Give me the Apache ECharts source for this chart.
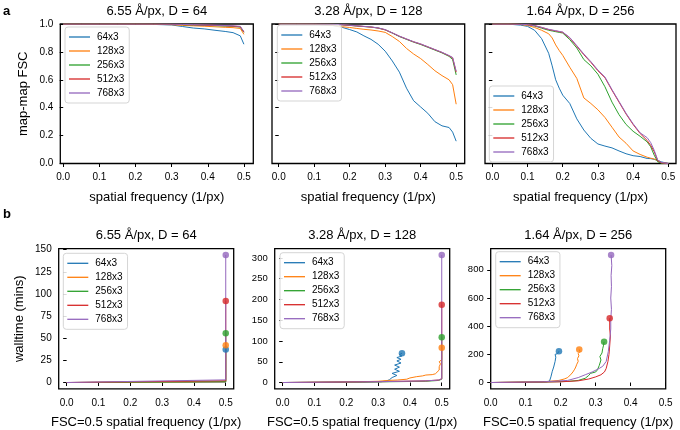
<!DOCTYPE html>
<html>
<head>
<meta charset="utf-8">
<script src="https://cdn.jsdelivr.net/npm/echarts@6/dist/echarts.min.js"></script>
<style>html,body{margin:0;padding:0;background:#fff}#c{width:680px;height:430px}</style>
</head>
<body>
<div id="c"></div>
<script>
// ---------- data ----------
const runs = ['64x3', '128x3', '256x3', '512x3', '768x3'];
const panelTitlesA = ['6.55 Å/px, D = 64', '3.28 Å/px, D = 128', '1.64 Å/px, D = 256'];
const panelTitlesB = ['6.55 Å/px, D = 64', '3.28 Å/px, D = 128', '1.64 Å/px, D = 256'];
const freqTicks = [0, 0.1, 0.2, 0.3, 0.4, 0.5];
const fscTicks = [0, 0.2, 0.4, 0.6, 0.8, 1.0];
const b1TimeTicks = [0, 25, 50, 75, 100, 125, 150];
const b2TimeTicks = [0, 50, 100, 150, 200, 250, 300];
const b3TimeTicks = [0, 200, 400, 600, 800];

// (a) map-map FSC curves
const a1_freq = [0, 0.05, 0.1, 0.15, 0.2, 0.25, 0.3, 0.33, 0.36, 0.39, 0.42, 0.45, 0.47, 0.49, 0.5];
const a1_64  = [1, 1, 1, 1, 0.999, 0.997, 0.993, 0.982, 0.971, 0.965, 0.955, 0.946, 0.938, 0.915, 0.855];
const a1_128 = [1, 1, 1, 1, 1, 0.998, 0.995, 0.99, 0.987, 0.984, 0.98, 0.976, 0.974, 0.968, 0.926];
const a1_256 = [1, 1, 1, 1, 1, 1, 0.998, 0.995, 0.993, 0.99, 0.988, 0.985, 0.983, 0.978, 0.94];
const a1_512 = [1, 1, 1, 1, 1, 1, 0.998, 0.996, 0.994, 0.992, 0.99, 0.987, 0.985, 0.98, 0.942];
const a1_768 = [1, 1, 1, 1, 1, 1, 0.999, 0.997, 0.995, 0.993, 0.991, 0.989, 0.987, 0.983, 0.946];

const a2_freq = [0, 0.05, 0.1, 0.15, 0.18, 0.2, 0.22, 0.24, 0.26, 0.28, 0.3, 0.32, 0.34, 0.36, 0.38, 0.4, 0.42, 0.44, 0.46, 0.48, 0.49, 0.5];
const a2_64  = [1, 1, 0.998, 0.99, 0.975, 0.96, 0.943, 0.915, 0.89, 0.855, 0.805, 0.735, 0.655, 0.54, 0.45, 0.405, 0.36, 0.3, 0.27, 0.258, 0.225, 0.16];
const a2_128 = [1, 1, 0.998, 0.99, 0.98, 0.975, 0.968, 0.962, 0.957, 0.95, 0.94, 0.91, 0.875, 0.825, 0.785, 0.752, 0.71, 0.665, 0.63, 0.6, 0.565, 0.425];
const a2_256 = [1, 1, 1, 0.998, 0.994, 0.99, 0.986, 0.982, 0.978, 0.971, 0.958, 0.935, 0.91, 0.89, 0.87, 0.853, 0.833, 0.813, 0.793, 0.768, 0.745, 0.635];
const a2_512 = [1, 1, 1, 0.998, 0.994, 0.99, 0.986, 0.982, 0.978, 0.971, 0.958, 0.936, 0.912, 0.892, 0.872, 0.856, 0.836, 0.816, 0.796, 0.772, 0.757, 0.655];
const a2_768 = [1, 1, 1, 0.998, 0.995, 0.991, 0.987, 0.983, 0.979, 0.972, 0.96, 0.937, 0.913, 0.893, 0.873, 0.857, 0.837, 0.817, 0.797, 0.774, 0.76, 0.662];

const a3_freq = [0, 0.05, 0.08, 0.1, 0.12, 0.14, 0.16, 0.17, 0.18, 0.19, 0.2, 0.22, 0.24, 0.26, 0.28, 0.3, 0.32, 0.34, 0.36, 0.38, 0.4, 0.42, 0.44, 0.45, 0.46, 0.47, 0.48, 0.5];
const a3_64  = [1, 0.998, 0.992, 0.983, 0.955, 0.895, 0.79, 0.7, 0.6, 0.54, 0.49, 0.43, 0.32, 0.24, 0.18, 0.14, 0.125, 0.112, 0.09, 0.07, 0.056, 0.05, 0.036, 0.035, 0.03, 0.022, 0.012, 0];
const a3_128 = [1, 1, 0.996, 0.99, 0.975, 0.955, 0.93, 0.9, 0.85, 0.81, 0.775, 0.69, 0.61, 0.47, 0.43, 0.385, 0.33, 0.26, 0.19, 0.145, 0.09, 0.065, 0.045, 0.038, 0.032, 0.02, 0.005, 0];
const a3_256 = [1, 1, 0.998, 0.995, 0.985, 0.97, 0.955, 0.95, 0.945, 0.94, 0.935, 0.888, 0.828, 0.745, 0.7, 0.64, 0.55, 0.44, 0.35, 0.28, 0.231, 0.195, 0.155, 0.12, 0.06, 0.012, 0.003, 0];
const a3_512 = [1, 1, 0.998, 0.995, 0.988, 0.975, 0.96, 0.955, 0.95, 0.945, 0.94, 0.9, 0.84, 0.78, 0.725, 0.665, 0.615, 0.525, 0.44, 0.355, 0.28, 0.215, 0.165, 0.13, 0.085, 0.02, 0.005, 0];
const a3_768 = [1, 1, 0.998, 0.995, 0.988, 0.976, 0.962, 0.957, 0.952, 0.947, 0.942, 0.903, 0.845, 0.785, 0.73, 0.67, 0.62, 0.53, 0.445, 0.36, 0.285, 0.22, 0.185, 0.15, 0.095, 0.025, 0.008, 0];

// (b) walltime vs FSC=0.5 resolution
const b1_64_res  = [0, 0.5, 0.5];    const b1_64_min  = [0, 0.5, 37.3];
const b1_128_res = [0, 0.5, 0.5];    const b1_128_min = [0, 0.8, 42];
const b1_256_res = [0, 0.5, 0.5];    const b1_256_min = [0, 1, 55.5];
const b1_512_res = [0, 0.5, 0.5];    const b1_512_min = [0, 2, 92];
const b1_768_res = [0, 0.5, 0.5];    const b1_768_min = [0, 3, 144];

const b2_64_res  = [0, 0.25, 0.31, 0.328, 0.336, 0.344, 0.359, 0.344, 0.367, 0.352, 0.367, 0.352, 0.372, 0.359, 0.372, 0.359, 0.375, 0.367, 0.375];
const b2_64_min  = [0, 1, 2, 4, 7, 12, 17, 22, 27, 32, 37, 42, 47, 52, 56, 60, 64, 67, 70.5];
const b2_128_res = [0, 0.2, 0.3, 0.33, 0.36, 0.39, 0.4, 0.42, 0.44, 0.45, 0.47, 0.48, 0.484, 0.492, 0.492, 0.496, 0.492, 0.5, 0.5];
const b2_128_min = [0, 1, 3, 5, 6, 8, 11, 14, 16, 18, 19, 21, 23, 30, 38, 45, 50, 55, 84];
const b2_256_res = [0, 0.3, 0.45, 0.49, 0.5, 0.5];
const b2_256_min = [0, 1.5, 3, 5, 8, 109];
const b2_512_res = [0, 0.3, 0.45, 0.49, 0.5, 0.5];
const b2_512_min = [0, 2, 4, 6, 9, 187];
const b2_768_res = [0, 0.3, 0.45, 0.49, 0.5, 0.5];
const b2_768_min = [0, 2, 4, 6, 9, 307];

const b3_64_res  = [0, 0.1, 0.16, 0.168, 0.172, 0.176, 0.18, 0.184, 0.186, 0.184, 0.191, 0.188, 0.195];
const b3_64_min  = [0, 2, 5, 10, 40, 80, 110, 150, 180, 200, 205, 215, 222];
const b3_128_res = [0, 0.15, 0.195, 0.2, 0.21, 0.22, 0.225, 0.23, 0.235, 0.24, 0.243, 0.246, 0.25, 0.248, 0.252, 0.25, 0.255, 0.253];
const b3_128_min = [0, 5, 15, 20, 25, 35, 45, 60, 75, 95, 110, 130, 150, 170, 190, 205, 220, 235];
const b3_256_res = [0, 0.15, 0.22, 0.25, 0.27, 0.28, 0.285, 0.3, 0.305, 0.31, 0.315, 0.312, 0.318, 0.32, 0.322, 0.324];
const b3_256_min = [0, 3, 8, 15, 30, 50, 65, 75, 90, 120, 160, 185, 210, 240, 260, 289];
const b3_512_res = [0, 0.2, 0.25, 0.28, 0.3, 0.315, 0.325, 0.33, 0.335, 0.338, 0.34, 0.342, 0.34, 0.34];
const b3_512_min = [0, 5, 12, 25, 40, 55, 75, 100, 150, 200, 260, 330, 380, 456];
const b3_768_res = [0, 0.15, 0.22, 0.25, 0.27, 0.29, 0.31, 0.32, 0.33, 0.336, 0.34, 0.343, 0.343, 0.345, 0.343, 0.345, 0.344, 0.346, 0.344];
const b3_768_min = [0, 5, 15, 35, 55, 75, 100, 115, 150, 220, 300, 380, 450, 520, 600, 680, 760, 830, 905];

// ---------- chart ----------
const FONT = '"Liberation Sans", Arial, Helvetica, sans-serif';
const COLORS = ['#1f77b4', '#ff7f0e', '#2ca02c', '#d62728', '#9467bd'];

const grids = [
  {left: 60.3, top: 24, width: 193, height: 139.5},
  {left: 272, top: 24, width: 192.7, height: 139.5},
  {left: 485, top: 24, width: 191, height: 139.5},
  {left: 58.7, top: 248.6, width: 175, height: 140.3},
  {left: 274.7, top: 248.6, width: 175, height: 140.3},
  {left: 490.7, top: 248.6, width: 175, height: 140.3}
];
const xRanges = [[-0.008, 0.526], [-0.019, 0.524], [-0.021, 0.522], [-0.025, 0.525], [-0.025, 0.525], [0, 0.5]];
const yRanges = [[0, 1], [0, 1], [0, 1], [-7.2, 151.2], [-15.35, 322.4], [-45.3, 951]];
const yTickSets = [fscTicks, fscTicks, fscTicks, b1TimeTicks, b2TimeTicks, b3TimeTicks];

const tickStyle = {show: true, length: 3.5, lineStyle: {color: '#000', width: 1}};

const xAxes = grids.map((g, i) => ({
  gridIndex: i, type: 'value', min: xRanges[i][0], max: xRanges[i][1],
  axisLine: {show: false}, splitLine: {show: false},
  axisTick: Object.assign({customValues: freqTicks}, tickStyle),
  axisLabel: {customValues: freqTicks, formatter: v => v.toFixed(1), fontSize: 10, color: '#000', fontFamily: FONT, margin: 9},
  name: i < 3 ? 'spatial frequency (1/px)' : 'FSC=0.5 spatial frequency (1/px)',
  nameLocation: 'middle', nameGap: 27,
  nameTextStyle: {fontSize: 13, color: '#000', fontFamily: FONT}
}));
const yAxes = grids.map((g, i) => ({
  gridIndex: i, type: 'value', min: yRanges[i][0], max: yRanges[i][1],
  axisLine: {show: false}, splitLine: {show: false},
  axisTick: Object.assign({customValues: yTickSets[i]}, tickStyle),
  axisLabel: {show: i === 0 || i >= 3, customValues: yTickSets[i],
    formatter: v => (i < 3 ? v.toFixed(1) : String(Math.round(v))),
    fontSize: i >= 4 ? 9.5 : 10, color: '#000', fontFamily: FONT, margin: 7},
  name: i === 0 ? 'map-map FSC' : (i === 3 ? 'walltime (mins)' : ''),
  nameLocation: 'middle', nameGap: i === 0 ? 30 : 33,
  nameTextStyle: {fontSize: 13, color: '#000', fontFamily: FONT}
}));

const series = [];
function addLine(idx, k, xs, ys, endMarker) {
  const data = xs.map((x, j) => [x, ys[j]]);
  series.push({
    type: 'line', name: runs[k], xAxisIndex: idx, yAxisIndex: idx, data,
    symbol: 'none', showSymbol: false, animation: false,
    lineStyle: {width: 1, color: COLORS[k]}, itemStyle: {color: COLORS[k]}, z: 2 + k
  });
  if (endMarker) {
    series.push({
      type: 'scatter', name: runs[k] + ' end', xAxisIndex: idx, yAxisIndex: idx,
      data: [data[data.length - 1]], symbol: 'circle', symbolSize: 6.5, animation: false,
      itemStyle: {color: COLORS[k]}, z: 10
    });
  }
}
[a1_64, a1_128, a1_256, a1_512, a1_768].forEach((ys, k) => addLine(0, k, a1_freq, ys, false));
[a2_64, a2_128, a2_256, a2_512, a2_768].forEach((ys, k) => addLine(1, k, a2_freq, ys, false));
[a3_64, a3_128, a3_256, a3_512, a3_768].forEach((ys, k) => addLine(2, k, a3_freq, ys, false));
[[b1_64_res, b1_64_min], [b1_128_res, b1_128_min], [b1_256_res, b1_256_min], [b1_512_res, b1_512_min], [b1_768_res, b1_768_min]]
  .forEach((p, k) => addLine(3, k, p[0], p[1], true));
[[b2_64_res, b2_64_min], [b2_128_res, b2_128_min], [b2_256_res, b2_256_min], [b2_512_res, b2_512_min], [b2_768_res, b2_768_min]]
  .forEach((p, k) => addLine(4, k, p[0], p[1], true));
[[b3_64_res, b3_64_min], [b3_128_res, b3_128_min], [b3_256_res, b3_256_min], [b3_512_res, b3_512_min], [b3_768_res, b3_768_min]]
  .forEach((p, k) => addLine(5, k, p[0], p[1], true));

const legendPos = [[65, 27], [277.3, 25], [489.3, 86], [63.3, 253.3], [280, 252.7], [495.7, 251.7]];
const legends = legendPos.map(p => ({
  data: runs.map(r => ({name: r, icon: 'rect'})), orient: 'vertical', left: p[0], top: p[1],
  padding: [4, 5, 4, 4], itemGap: 2, itemWidth: 21, itemHeight: 1.3,
  textStyle: {fontSize: 10, color: '#000', fontFamily: FONT, lineHeight: 12, padding: [0, 0, 0, 2]},
  borderColor: '#d5d5d5', borderWidth: 1, borderRadius: 3,
  backgroundColor: 'rgba(255,255,255,0.85)', selectedMode: false, z: 20
}));

const graphic = [];
grids.forEach((g, i) => {
  const titles = i < 3 ? panelTitlesA : panelTitlesB;
  graphic.push({type: 'text', x: g.left + g.width / 2, y: i < 3 ? 11 : 235, z: 30,
    style: {text: titles[i % 3], fill: '#000', font: '13px ' + FONT, align: 'center', verticalAlign: 'middle'}});
});
graphic.push({type: 'text', x: 3, y: 11, style: {text: 'a', fill: '#000', font: 'bold 13px ' + FONT, align: 'left', verticalAlign: 'middle'}});
graphic.push({type: 'text', x: 3, y: 214, style: {text: 'b', fill: '#000', font: 'bold 13px ' + FONT, align: 'left', verticalAlign: 'middle'}});

const chart = echarts.init(document.getElementById('c'), null, {renderer: 'canvas'});
chart.setOption({
  animation: false,
  backgroundColor: '#fff',
  grid: grids.map(g => Object.assign({show: true, borderColor: '#000', borderWidth: 1.3, backgroundColor: 'transparent', containLabel: false}, g)),
  xAxis: xAxes, yAxis: yAxes, legend: legends, series, graphic
});
</script>
</body>
</html>
